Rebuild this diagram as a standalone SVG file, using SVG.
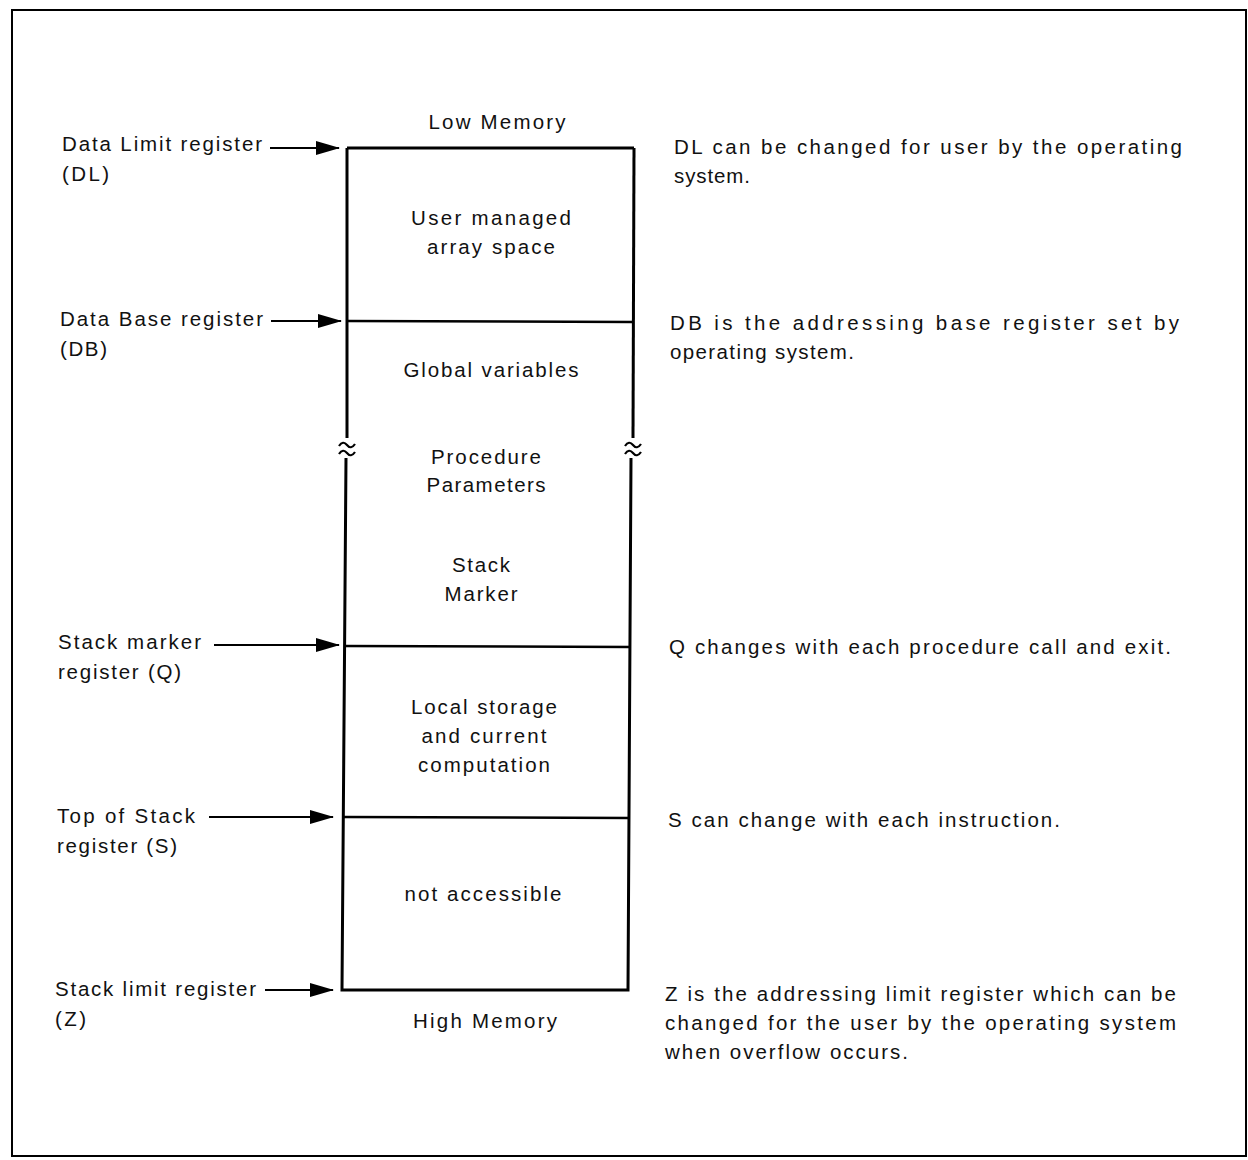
<svg xmlns="http://www.w3.org/2000/svg" width="1248" height="1160" viewBox="0 0 1248 1160">
<defs>
<marker id="ah" markerWidth="24" markerHeight="14" refX="23" refY="7" orient="auto" markerUnits="userSpaceOnUse">
<path d="M0,0 L24,7 L0,14 Z" fill="#000"/>
</marker>
<style>
text{font-family:"Liberation Sans",Arial,sans-serif;font-size:20.5px;fill:#111;}
.c{text-anchor:middle;}
.box{stroke:#000;stroke-width:3;fill:none;}
.div{stroke:#000;stroke-width:2.5;fill:none;}
.arr{stroke:#000;stroke-width:2.2;fill:none;marker-end:url(#ah);}
.brk{stroke:#000;stroke-width:2.2;fill:none;}
</style>
</defs>
<rect x="0" y="0" width="1248" height="1160" fill="#fff"/>
<rect id="frame" x="12" y="10" width="1234" height="1146" fill="none" stroke="#000" stroke-width="2"/>

<g id="memory-box">
<path class="box" d="M347,148 L634,148"/>
<path class="box" d="M347,148 L347,438"/>
<path class="box" d="M346,458 L342,990 L628,990 L631,458"/>
<path class="box" d="M634,148 L633,438"/>
<path class="brk" d="M339,446 q4,-6 8,-1 q4,5 8,-1"/>
<path class="brk" d="M339,454 q4,-6 8,-1 q4,5 8,-1"/>
<path class="brk" d="M625,446 q4,-6 8,-1 q4,5 8,-1"/>
<path class="brk" d="M625,454 q4,-6 8,-1 q4,5 8,-1"/>
<path class="div" d="M347,321 L632,322"/>
<path class="div" d="M344,646 L631,647"/>
<path class="div" d="M343,817 L630,818"/>
</g>

<g id="labels-center">
<text class="c" x="497" y="129" textLength="137">Low Memory</text>
<text class="c" x="491" y="225" textLength="160">User managed</text>
<text class="c" x="491" y="254" textLength="128">array space</text>
<text class="c" x="491" y="377" textLength="175">Global variables</text>
<text class="c" x="486" y="464" textLength="110">Procedure</text>
<text class="c" x="486" y="492" textLength="119">Parameters</text>
<text class="c" x="481" y="572" textLength="58">Stack</text>
<text class="c" x="481" y="601" textLength="73">Marker</text>
<text class="c" x="484" y="714" textLength="146">Local storage</text>
<text class="c" x="484" y="743" textLength="125">and current</text>
<text class="c" x="484" y="772" textLength="132">computation</text>
<text class="c" x="483" y="901" textLength="157">not accessible</text>
<text class="c" x="485" y="1028" textLength="144">High Memory</text>
</g>

<g id="node-DL">
<text x="62" y="151" textLength="200">Data Limit register</text>
<text x="62" y="181" textLength="47">(DL)</text>
</g>
<g id="node-DB">
<text x="60" y="326" textLength="203">Data Base register</text>
<text x="60" y="356" textLength="47">(DB)</text>
</g>
<g id="node-Q">
<text x="58" y="649" textLength="143">Stack marker</text>
<text x="58" y="679" textLength="123">register (Q)</text>
</g>
<g id="node-S">
<text x="57" y="823" textLength="138">Top of Stack</text>
<text x="57" y="853" textLength="120">register (S)</text>
</g>
<g id="node-Z">
<text x="55" y="996" textLength="201">Stack limit register</text>
<text x="55" y="1026" textLength="31">(Z)</text>
</g>

<g id="connectors">
<path class="arr" d="M270,148 L339,148"/>
<path class="arr" d="M271,321 L341,321"/>
<path class="arr" d="M214,645 L339,645"/>
<path class="arr" d="M209,817 L333,817"/>
<path class="arr" d="M265,990 L333,990"/>
</g>

<g id="notes">
<text x="674" y="154" textLength="508">DL can be changed for user by the operating</text>
<text x="674" y="183" textLength="76">system.</text>
<text x="670" y="330" textLength="509">DB is the addressing base register set by</text>
<text x="670" y="359" textLength="184">operating system.</text>
<text x="669" y="654" textLength="502">Q changes with each procedure call and exit.</text>
<text x="668" y="827" textLength="392">S can change with each instruction.</text>
<text x="665" y="1001" textLength="511">Z is the addressing limit register which can be</text>
<text x="665" y="1030" textLength="511">changed for the user by the operating system</text>
<text x="665" y="1059" textLength="243">when overflow occurs.</text>
</g>
</svg>
